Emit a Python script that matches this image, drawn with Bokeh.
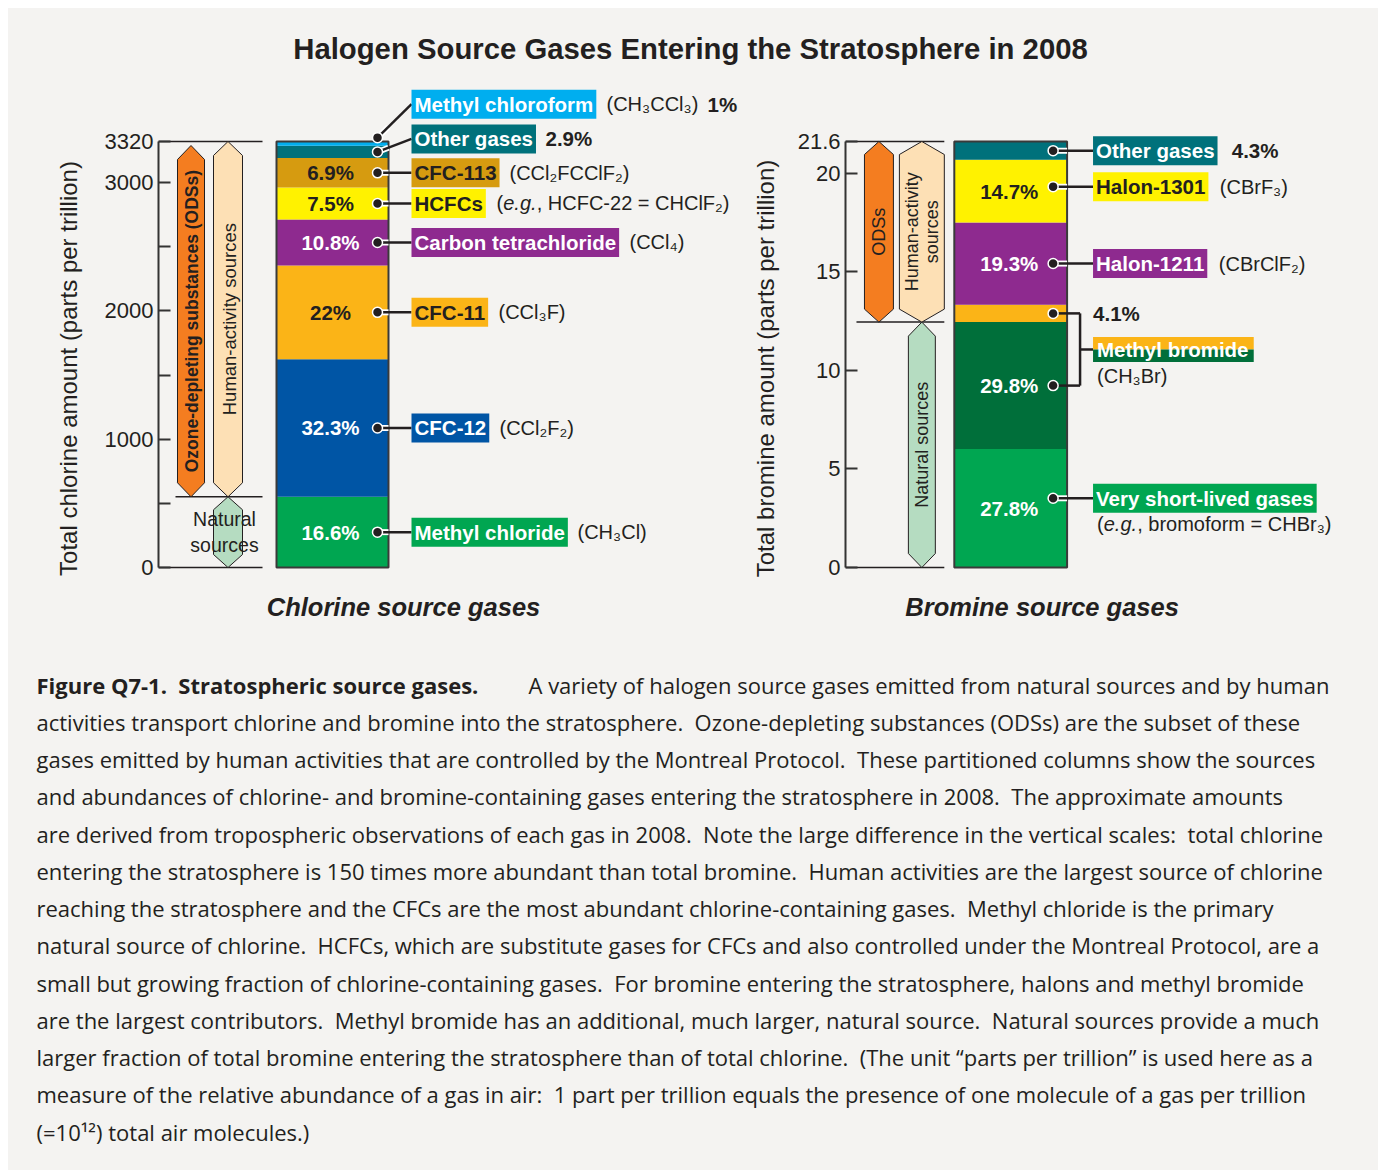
import math
from bokeh.plotting import figure
from bokeh.layouts import column, row
from bokeh.models import Range1d, LinearAxis, FixedTicker, NumeralTickFormatter
from bokeh.core.properties import value
from bokeh.embed import file_html
from bokeh.resources import INLINE

# ---------------- data ----------------
title_text = "Halogen Source Gases Entering the Stratosphere in 2008"

cl_total = 3320
cl_gases = ["Methyl chloride", "CFC-12", "CFC-11", "Carbon tetrachloride",
            "HCFCs", "CFC-113", "Other gases", "Methyl chloroform"]
cl_pct = [16.6, 32.3, 22.0, 10.8, 7.5, 6.9, 2.9, 1.0]
cl_formulas = ["(CH₃Cl)", "(CCl₂F₂)", "(CCl₃F)", "(CCl₄)",
               "(|e.g.|, HCFC-22 = CHClF₂)", "(CCl₂FCClF₂)", "", "(CH₃CCl₃)"]
cl_natural = [True, False, False, False, False, False, False, False]
cl_ticks = [0, 1000, 2000, 3000, 3320]
cl_minor_ticks = [500, 1500, 2500]
cl_axis_label = "Total chlorine amount (parts per trillion)"
cl_group_label = "Chlorine source gases"

br_total = 21.6
br_gases = ["Very short-lived gases", "Methyl bromide", "Methyl bromide",
            "Halon-1211", "Halon-1301", "Other gases"]
br_pct = [27.8, 29.8, 4.1, 19.3, 14.7, 4.3]
br_formulas = ["(|e.g.|, bromoform = CHBr₃)", "(CH₃Br)", "(CH₃Br)",
               "(CBrClF₂)", "(CBrF₃)", ""]
br_natural = [True, True, False, False, False, False]
br_ticks = [0, 5, 10, 15, 20, 21.6]
br_axis_label = "Total bromine amount (parts per trillion)"
br_group_label = "Bromine source gases"

ods_long = "Ozone-depleting substances (ODSs)"
ods_short = "ODSs"
human_label = "Human-activity sources"
natural_label = "Natural sources"

caption_bold = "Figure Q7-1.  Stratospheric source gases."
caption_lines = [
    "A variety of halogen source gases emitted from natural sources and by human",
    "activities transport chlorine and bromine into the stratosphere.  Ozone-depleting substances (ODSs) are the subset of these",
    "gases emitted by human activities that are controlled by the Montreal Protocol.  These partitioned columns show the sources",
    "and abundances of chlorine- and bromine-containing gases entering the stratosphere in 2008.  The approximate amounts",
    "are derived from tropospheric observations of each gas in 2008.  Note the large difference in the vertical scales:  total chlorine",
    "entering the stratosphere is 150 times more abundant than total bromine.  Human activities are the largest source of chlorine",
    "reaching the stratosphere and the CFCs are the most abundant chlorine-containing gases.  Methyl chloride is the primary",
    "natural source of chlorine.  HCFCs, which are substitute gases for CFCs and also controlled under the Montreal Protocol, are a",
    "small but growing fraction of chlorine-containing gases.  For bromine entering the stratosphere, halons and methyl bromide",
    "are the largest contributors.  Methyl bromide has an additional, much larger, natural source.  Natural sources provide a much",
    "larger fraction of total bromine entering the stratosphere than of total chlorine.  (The unit \u201cparts per trillion\u201d is used here as a",
    "measure of the relative abundance of a gas in air:  1 part per trillion equals the presence of one molecule of a gas per trillion",
    "(=10\u00b9\u00b2) total air molecules.)",
]

# ---------------- styles ----------------
BG = "#f4f3f1"
INK = "#231f20"
AXC = "#333333"
FONT = "Liberation Sans"
CAPFONT = "Open Sans"
CL_COLORS = ["#00a651", "#0055a5", "#fbb417", "#8e2a8f", "#fff200", "#d69b10", "#00717b", "#00aeef"]
CL_TEXT = ["white", "white", INK, "white", INK, INK, "white", "white"]
BR_COLORS = ["#00a651", "#006f3a", "#fbb417", "#8e2a8f", "#fff200", "#00717b"]
BR_TEXT = ["white", "white", INK, "white", INK, "white"]
ODS_ORANGE = "#f47d20"
PEACH = "#fde0b5"
NAT_GREEN = "#b5dcc1"

PAGE_R = 1378                  # right edge of the panel (page px)
FIG_TOP, FIG_BOT = 88, 648     # page y of the chart row
VAL_TOP, VAL_BOT = 141, 567    # page y of column top / zero
CAP_BOT = 1170
LBL_SIZE = "20.5px"
FML_SIZE = "20px"
EG_W = (6.7, 33.5)             # widths of "(" and italic "e.g."


def keep_spaces(s):
    return s.replace("  ", " \u00a0")


def stack(pcts, total):
    amt = [v / 100.0 * total for v in pcts]
    bot, top, acc = [], [], 0.0
    for a in amt:
        bot.append(acc)
        acc += a
        top.append(acc)
    mid = [(b + t) / 2 for b, t in zip(bot, top)]
    return amt, bot, top, mid


def plain_figure(w, h, xr, yr):
    return figure(width=w, height=h, x_range=xr, y_range=yr,
                  x_axis_type=None, y_axis_type=None, output_backend="svg",
                  toolbar_location=None, min_border=0, background_fill_color=BG,
                  border_fill_color=BG, outline_line_color=None)


def chart_figure(px0, px1, axis_x, total, ticks, minor, fmt, label, standoff):
    s = total / (VAL_BOT - VAL_TOP)
    p = figure(width=px1 - px0, height=FIG_BOT - FIG_TOP,
               x_range=Range1d(axis_x, px1),
               y_range=Range1d(-(FIG_BOT - VAL_BOT) * s, total + (VAL_TOP - FIG_TOP) * s),
               x_axis_type=None, y_axis_type=None, output_backend="svg",
               toolbar_location=None, min_border_left=axis_x - px0,
               min_border_right=0, min_border_top=0, min_border_bottom=0,
               background_fill_color=BG, border_fill_color=BG, outline_line_color=None)
    ax = LinearAxis(bounds=(0, total), ticker=FixedTicker(ticks=ticks, minor_ticks=minor),
                    formatter=NumeralTickFormatter(format=fmt), axis_label=label)
    ax.axis_line_color = AXC
    ax.axis_line_width = 2
    ax.major_tick_in = 12
    ax.major_tick_out = 0
    ax.major_tick_line_color = AXC
    ax.major_tick_line_width = 2
    ax.minor_tick_in = 12
    ax.minor_tick_out = 0
    ax.minor_tick_line_color = AXC
    ax.minor_tick_line_width = 2
    ax.major_label_text_font = FONT
    ax.major_label_text_font_size = "22px"
    ax.major_label_text_color = INK
    ax.major_label_standoff = 5
    ax.axis_label_text_font = FONT
    ax.axis_label_text_font_size = "24px"
    ax.axis_label_text_font_style = "normal"
    ax.axis_label_text_color = INK
    ax.axis_label_standoff = standoff
    p.add_layout(ax, "left")
    return p, s


def hexagon(xc, hw, ybot, ytop, tip):
    return ([xc, xc + hw, xc + hw, xc, xc - hw, xc - hw],
            [ybot, ybot + tip, ytop - tip, ytop, ytop - tip, ybot + tip])


def txt(p, x, y, t, size, color=INK, style="normal", align="left", font=FONT, angle=0.0, **kw):
    p.text(x=[x], y=[y], text=[t], text_font=value(font), text_font_size=size,
           text_font_style=style, text_color=color, text_align=align,
           text_baseline="middle", angle=angle, **kw)


def formula(p, x, y, f):
    if "|" in f:
        a, b, c = f.split("|")
        txt(p, x, y, a, FML_SIZE)
        txt(p, x + EG_W[0], y, b, FML_SIZE, style="italic")
        txt(p, x + EG_W[0] + EG_W[1], y, c, FML_SIZE)
    elif f:
        txt(p, x, y, f, FML_SIZE)


def leaders(p, dot_x, bar_r, lab_x, dys, lys):
    # white casing inside the bar, dark leader line, dots
    cx1, cy1 = [], []
    for dy, ly in zip(dys, lys):
        t = (bar_r - dot_x) / (lab_x - dot_x)
        cx1.append(bar_r)
        cy1.append(dy + t * (ly - dy))
    p.segment(x0=[dot_x] * len(dys), y0=dys, x1=cx1, y1=cy1, line_color="white", line_width=6)
    p.segment(x0=[dot_x] * len(dys), y0=dys, x1=[lab_x] * len(dys), y1=lys,
              line_color=INK, line_width=2.5)
    p.scatter(x=[dot_x] * len(dys), y=dys, size=10, fill_color=INK,
              line_color="white", line_width=1.5)


# ================= chlorine chart =================
L, sL = chart_figure(8, 748, 158, cl_total, cl_ticks, cl_minor_ticks, "0", cl_axis_label, 20)
cl_amt, cl_bot, cl_top, cl_mid = stack(cl_pct, cl_total)
cl_nat_top = sum(a for a, n in zip(cl_amt, cl_natural) if n)

BAR_L = (276, 388)
L.segment(x0=[158, 158, 175], y0=[cl_total, 0, cl_nat_top], x1=[262, 262, 262],
          y1=[cl_total, 0, cl_nat_top], line_color=INK, line_width=1.5)
h1 = hexagon(190.5, 13.5, cl_nat_top, cl_total - 4 * sL, 14 * sL)
h2 = hexagon(227.5, 14.5, cl_nat_top, cl_total, 14 * sL)
h3 = hexagon(227.5, 14.5, 0, cl_nat_top, 13 * sL)
L.patches(xs=[h1[0], h2[0], h3[0]], ys=[h1[1], h2[1], h3[1]],
          fill_color=[ODS_ORANGE, PEACH, NAT_GREEN], line_color=INK, line_width=1)
txt(L, 191, (cl_nat_top + cl_total - 4 * sL) / 2, ods_long, "17.5px", style="bold",
    align="center", angle=math.pi / 2)
txt(L, 228.5, (cl_nat_top + cl_total) / 2, human_label, "18.5px", align="center", angle=math.pi / 2)
txt(L, 224, cl_nat_top / 2, natural_label.replace(" ", "\n"), "19.5px", align="center",
    text_line_height=1.15)

L.quad(left=BAR_L[0], right=BAR_L[1], bottom=cl_bot, top=cl_top, fill_color=CL_COLORS, line_color=None)
L.quad(left=[BAR_L[0]], right=[BAR_L[1]], bottom=[0], top=[cl_total], fill_color=None,
       line_color="#3a3a3a", line_width=2)

cl_dot_up = {"Methyl chloroform": 6}
cl_lab_up = {"Methyl chloroform": 39.5, "Other gases": 13}
cl_dot_y = [m + cl_dot_up.get(g, 0) * sL for g, m in zip(cl_gases, cl_mid)]
cl_lab_y = [m + cl_lab_up.get(g, 0) * sL for g, m in zip(cl_gases, cl_mid)]
leaders(L, 377, BAR_L[1], 411, cl_dot_y, cl_lab_y)

for g, pc, m, ly, col, tc in zip(cl_gases, cl_pct, cl_mid, cl_lab_y, CL_COLORS, CL_TEXT):
    if pc >= 5:
        txt(L, 330, m, f"{pc:g}%", LBL_SIZE, color=tc, style="bold", align="center")
    txt(L, 411, ly, g, LBL_SIZE, color=tc, style="bold", background_fill_color=col, padding=3)

cl_fml_x = [577, 499, 498, 629, 496, 509, 0, 606]
for f, fx, ly in zip(cl_formulas, cl_fml_x, cl_lab_y):
    formula(L, fx, ly, f)
# percentages of the small top gases, written beside their labels
txt(L, 545, cl_lab_y[6], f"{cl_pct[6]:g}%", LBL_SIZE, style="bold")
txt(L, 707, cl_lab_y[7], f"{cl_pct[7]:g}%", LBL_SIZE, style="bold")
txt(L, 403, -(606 - VAL_BOT) * sL, cl_group_label, "25.5px", style="bold italic", align="center")

# ================= bromine chart =================
R, sR = chart_figure(748, PAGE_R, 844, br_total, br_ticks, [], "0.[0]", br_axis_label, 16)
br_amt, br_bot, br_top, br_mid = stack(br_pct, br_total)
br_nat_top = sum(a for a, n in zip(br_amt, br_natural) if n)

BAR_R = (953, 1066)
R.segment(x0=[844, 844, 855], y0=[br_total, 0, br_nat_top], x1=[943, 943, 943],
          y1=[br_total, 0, br_nat_top], line_color=INK, line_width=1.5)
g1 = hexagon(877.5, 14.5, br_nat_top, br_total, 13 * sR)
g2 = hexagon(920.5, 22.5, br_nat_top, br_total, 13 * sR)
g3 = hexagon(920.5, 13.5, 0, br_nat_top, 14 * sR)
R.patches(xs=[g1[0], g2[0], g3[0]], ys=[g1[1], g2[1], g3[1]],
          fill_color=[ODS_ORANGE, PEACH, NAT_GREEN], line_color=INK, line_width=1)
txt(R, 878, (br_nat_top + br_total) / 2, ods_short, "18px", align="center", angle=math.pi / 2)
txt(R, 920.5, (br_nat_top + br_total) / 2, human_label.replace(" ", "\n"), "18px",
    align="center", angle=math.pi / 2, text_line_height=1.0)
txt(R, 920.5, br_nat_top / 2, natural_label, "18px", align="center", angle=math.pi / 2)

R.quad(left=BAR_R[0], right=BAR_R[1], bottom=br_bot, top=br_top, fill_color=BR_COLORS, line_color=None)
R.quad(left=[BAR_R[0]], right=[BAR_R[1]], bottom=[0], top=[br_total], fill_color=None,
       line_color="#3a3a3a", line_width=2)

for pc, m, tc in zip(br_pct, br_mid, BR_TEXT):
    if pc >= 5:
        txt(R, 1008, m, f"{pc:g}%", LBL_SIZE, color=tc, style="bold", align="center")

br_up = [10, 0, 0, 0, 4.5, 0]
br_y = [m + u * sR for m, u in zip(br_mid, br_up)]
single = [0, 3, 4, 5]
leaders(R, 1052, BAR_R[1], 1092, [br_y[i] for i in single], [br_y[i] for i in single])
for i in single:
    txt(R, 1092, br_y[i], br_gases[i], LBL_SIZE, color=BR_TEXT[i], style="bold",
        background_fill_color=BR_COLORS[i], padding=3)
formula(R, 1218, br_y[3], br_formulas[3])
formula(R, 1219, br_y[4], br_formulas[4])
txt(R, 1231, br_y[5], f"{br_pct[5]:g}%", LBL_SIZE, style="bold")
formula(R, 1096, br_y[0] - 26 * sR, br_formulas[0])

# methyl bromide: bracket joining its natural and human parts
mb_mid = (br_y[1] + br_y[2]) / 2
R.segment(x0=[1052, 1079, 1052, 1079], y0=[br_y[2], br_y[2], br_y[1], mb_mid],
          x1=[1079, 1079, 1079, 1092], y1=[br_y[2], br_y[1], br_y[1], mb_mid],
          line_color=INK, line_width=2.5)
R.scatter(x=[1052, 1052], y=[br_y[1], br_y[2]], size=10, fill_color=INK,
          line_color="white", line_width=1.5)
R.quad(left=[1092, 1092], right=[1253, 1253],
       bottom=[mb_mid, mb_mid - 12.5 * sR], top=[mb_mid + 12.5 * sR, mb_mid],
       fill_color=[BR_COLORS[2], BR_COLORS[1]], line_color=None)
txt(R, 1096, mb_mid, br_gases[1], LBL_SIZE, color="white", style="bold")
txt(R, 1092, br_y[2], f"{br_pct[2]:g}%", LBL_SIZE, style="bold")
formula(R, 1096, mb_mid - 27 * sR, br_formulas[1])
txt(R, 1041, -(606 - VAL_BOT) * sR, br_group_label, "25.5px", style="bold italic", align="center")

# ================= title =================
T = plain_figure(PAGE_R - 8, FIG_TOP - 8, Range1d(8, PAGE_R), Range1d(FIG_TOP, 8))
txt(T, 690, 48, title_text, "29.3px", style="bold", align="center")

# ================= caption =================
C = plain_figure(PAGE_R - 8, CAP_BOT - FIG_BOT, Range1d(8, PAGE_R), Range1d(CAP_BOT, FIG_BOT))
CAP_Y0, CAP_DY = 684, 37.25
txt(C, 36, CAP_Y0, keep_spaces(caption_bold), "22px", style="bold", font=CAPFONT)
for i, line in enumerate(caption_lines):
    txt(C, 528 if i == 0 else 36, CAP_Y0 + i * CAP_DY, keep_spaces(line), "22px", font=CAPFONT)

layout = column(T, row(L, R, styles={"background-color": BG}), C,
                margin=(8, 0, 0, 8), styles={"background-color": BG})
open("out.html", "w").write(file_html(layout, INLINE))
